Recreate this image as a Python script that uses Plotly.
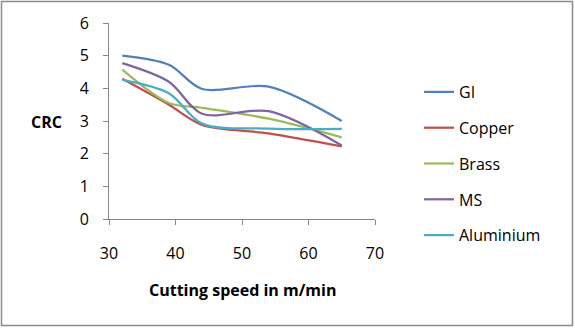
import plotly.graph_objects as go

speed = [32, 39, 44, 54, 65]
gi = [5.0, 4.72, 3.98, 4.05, 3.0]
copper = [4.29, 3.5, 2.88, 2.62, 2.22]
brass = [4.57, 3.55, 3.4, 3.07, 2.5]
ms = [4.77, 4.2, 3.22, 3.3, 2.25]
aluminium = [4.26, 3.85, 2.92, 2.77, 2.76]

names = ["GI", "Copper", "Brass", "MS", "Aluminium"]
series = [gi, copper, brass, ms, aluminium]
colors = ["#4F81BD", "#C0504D", "#9BBB59", "#8064A2", "#4BACC6"]

fig = go.Figure()
for n, s, c in zip(names, series, colors):
    fig.add_trace(go.Scatter(x=speed, y=s, name=n, mode="lines",
                             line=dict(color=c, width=2.25, shape="spline", smoothing=0.9),
                             legendgroup=n))

W, H = 575, 330
L, R, T, B = 109, 375, 23, 219
fig.update_layout(
    width=W, height=H,
    margin=dict(l=L, r=W - R, t=T, b=H - B),
    paper_bgcolor="white", plot_bgcolor="white",
    font=dict(family="Open Sans", size=16, color="black"),
    showlegend=True,
    legend=dict(x=(419 - L) / (R - L), y=(219 - 75) / (B - T), xanchor="left", yanchor="top",
                font=dict(size=16), tracegroupgap=12, bgcolor="rgba(0,0,0,0)"),
    xaxis=dict(range=[30, 70], dtick=10, showgrid=False, zeroline=False,
               showline=True, linecolor="#868686", linewidth=1,
               ticks="outside", ticklen=5, tickcolor="#868686",
               ticklabelstandoff=15, tickfont=dict(size=16)),
    yaxis=dict(range=[0, 6], dtick=1, showgrid=False, zeroline=False,
               showline=True, linecolor="#868686", linewidth=1,
               ticks="outside", ticklen=5, tickcolor="#868686",
               ticklabelstandoff=11, tickfont=dict(size=16)),
    shapes=[dict(type="rect", xref="paper", yref="paper",
                 x0=(1.5 - L) / (R - L), x1=(572.5 - L) / (R - L),
                 y0=(B - 325.5) / (B - T), y1=(B - 1.5) / (B - T),
                 line=dict(color="#8a8a8a", width=1.5), layer="below")],
    annotations=[
        dict(text="<b>CRC</b>", xref="paper", yref="paper",
             x=(46 - L) / (R - L), y=(B - 122) / (B - T), showarrow=False,
             xanchor="center", yanchor="middle", font=dict(size=16)),
        dict(text="<b>Cutting speed in m/min</b>", xref="paper", yref="paper",
             x=(242 - L) / (R - L), y=(B - 290) / (B - T), showarrow=False,
             xanchor="center", yanchor="middle", font=dict(size=16)),
    ],
)

fig.write_html("out.html")
